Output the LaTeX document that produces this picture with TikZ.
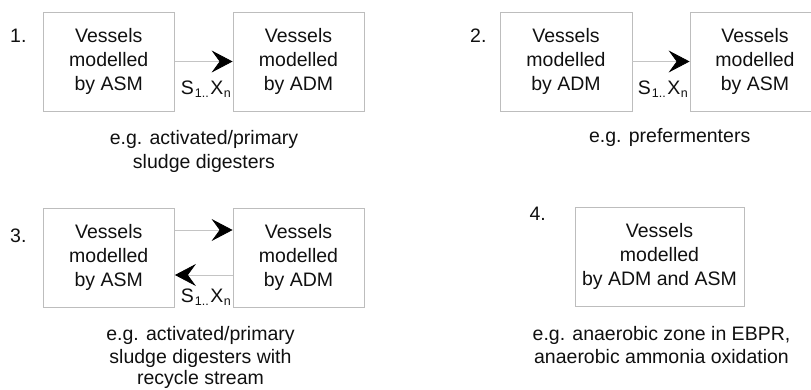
\documentclass[tikz,border=0pt]{standalone}
\usepackage{fontspec}
\setmainfont{Liberation Sans}
\usetikzlibrary{arrows.meta}
\definecolor{boxgray}{HTML}{BDBDBD}
\definecolor{linegray}{HTML}{C4C4C4}
\definecolor{ink}{HTML}{101010}
\newcommand{\sxlabel}{S\kern1pt\raisebox{-3.5pt}{\fontsize{12.5}{12.5}\selectfont 1..}\kern1.5pt X\kern0.5pt\raisebox{-3.5pt}{\fontsize{12.5}{12.5}\selectfont n}}
\begin{document}
\begin{tikzpicture}[x=1pt,y=-1pt,
  every node/.style={text=ink},
  vessel/.style={draw=boxgray, line width=0.8pt, minimum height=99pt, align=center, inner sep=0pt, font=\fontsize{19.5}{24.2}\selectfont},
  flow/.style={draw=linegray, line width=0.8pt, -{Stealth[length=21pt,width=22pt,inset=8pt,color=black,fill=black]}},
  txt/.style={font=\fontsize{19.5}{24.2}\selectfont, inner sep=0pt},
]
\useasboundingbox (0,0) rectangle (811,390);
\clip (0,0) rectangle (811,390);

% Panel 1
\node[txt, anchor=base west] (n1) at (10,42.3) {1.};
\node[vessel, minimum width=131.5pt] (a1) at (108.75,61.5) {Vessels\\modelled\\by ASM};
\node[vessel, minimum width=131pt] (b1) at (298.5,61.5) {Vessels\\modelled\\by ADM};
\draw[flow] (a1.east) -- (b1.west);
\node[txt, anchor=base east] (s1) at (231,94.5) {\sxlabel};
\node[txt, anchor=base] (c1a) at (204,144.3) {e.g. activated/primary};
\node[txt, anchor=base] (c1b) at (204,168.3) {sludge digesters};

% Panel 2
\node[txt, anchor=base west] (n2) at (470,42.7) {2.};
\node[vessel, minimum width=132pt] (a2) at (566,61.5) {Vessels\\modelled\\by ADM};
\node[vessel, minimum width=130pt] (b2) at (755,61.5) {Vessels\\modelled\\by ASM};
\draw[flow] (a2.east) -- (b2.west);
\node[txt, anchor=base east] (s2) at (688,94.5) {\sxlabel};
\node[txt, anchor=base] (c2a) at (669.7,143) {e.g. prefermenters};

% Panel 3
\coordinate (y3top) at (0,230);
\coordinate (y3bot) at (0,275);
\node[txt, anchor=base west] (n3) at (10,242.3) {3.};
\node[vessel, minimum width=131.5pt] (a3) at (108.75,257.5) {Vessels\\modelled\\by ASM};
\node[vessel, minimum width=131pt] (b3) at (298.5,257.5) {Vessels\\modelled\\by ADM};
\draw[flow] (a3.east |- y3top) -- (b3.west |- y3top);
\draw[flow] (b3.west |- y3bot) -- (a3.east |- y3bot);
\node[txt, anchor=base east] (s3) at (231,302) {\sxlabel};
\node[txt, anchor=base] (c3a) at (200.5,340.5) {e.g. activated/primary};
\node[txt, anchor=base] (c3b) at (200.5,363) {sludge digesters with};
\node[txt, anchor=base] (c3c) at (200.5,384.5) {recycle stream};

% Panel 4
\node[txt, anchor=base west] (n4) at (529.3,220.7) {4.};
\node[vessel, minimum width=169pt] (a4) at (659.5,256.5) {Vessels\\modelled\\by ADM and ASM};
\node[txt, anchor=base] (c4a) at (661.5,340.5) {e.g. anaerobic zone in EBPR,};
\node[txt, anchor=base] (c4b) at (661.5,363) {anaerobic ammonia oxidation};
\end{tikzpicture}
\end{document}
